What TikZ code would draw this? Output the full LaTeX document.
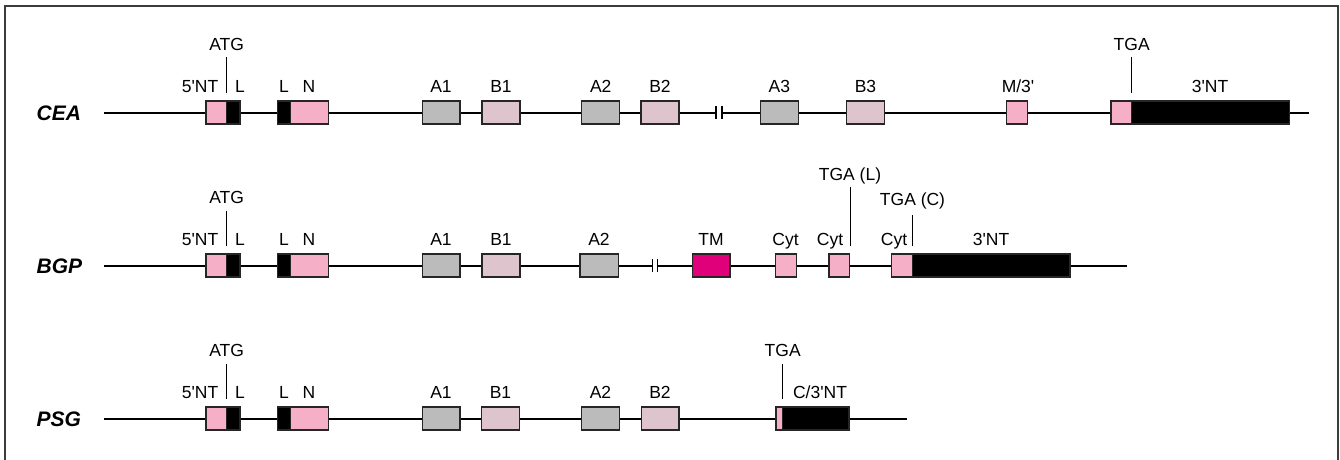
\documentclass[tikz,border=0pt]{standalone}
\usepackage{fontspec}
\setmainfont{Liberation Sans}
\definecolor{pinkx}{RGB}{245,176,200}
\definecolor{mauvex}{RGB}{222,196,204}
\definecolor{grayx}{RGB}{187,187,187}
\definecolor{magx}{RGB}{224,0,122}
\definecolor{framex}{RGB}{60,60,60}
\newcommand{\pr}{\textquotesingle}
\begin{document}
\begin{tikzpicture}[x=1pt,y=-1pt,
  box/.style={draw=black!85, line width=1.4pt, minimum height=23pt, inner sep=0pt, anchor=west, outer sep=0pt},
  pk/.style={box, fill=pinkx},
  bk/.style={box, fill=black},
  gy/.style={box, fill=grayx},
  mv/.style={box, fill=mauvex},
  mg/.style={box, fill=magx},
  gene/.style={line width=2pt},
  tick/.style={line width=0.9pt},
  lab/.style={anchor=base, inner sep=0pt, font=\fontsize{17.5}{20}\selectfont},
  rowname/.style={anchor=base west, inner sep=0pt, font=\fontsize{21}{24}\selectfont\bfseries\itshape},
  brk/.style={line width=1.4pt}
]
\useasboundingbox (0,0) rectangle (1340,460);
\draw[framex, line width=1.4pt] (5,6) rectangle (1338,480);

% ================= CEA =================
\def\ry{112.5}
\node[rowname] (ceaname) at (36.5,\ry+7.5) {CEA};
\coordinate (ceaS) at (104,\ry);
\coordinate (ceaE) at (1309,\ry);
\coordinate (ceaB1) at (716,\ry);
\coordinate (ceaB2) at (722,\ry);
\draw[gene] (ceaS) -- (ceaB1);
\draw[gene] (ceaB2) -- (ceaE);
\draw[brk] (716,\ry-6.5) -- (716,\ry+6.5);
\draw[brk] (722,\ry-6.5) -- (722,\ry+6.5);
\node[pk, minimum width=20.7pt] (ceaP5) at (206,\ry) {};
\node[bk, minimum width=13.3pt] (ceaL1) at (226.7,\ry) {};
\node[bk, minimum width=13.3pt] (ceaL2) at (277.3,\ry) {};
\node[pk, minimum width=37.6pt] (ceaN) at (290.7,\ry) {};
\node[gy, minimum width=37.7pt] (ceaA1) at (422.3,\ry) {};
\node[mv, minimum width=38pt] (ceaBB1) at (482,\ry) {};
\node[gy, minimum width=38pt] (ceaA2) at (581.7,\ry) {};
\node[mv, minimum width=38pt] (ceaBB2) at (641,\ry) {};
\node[gy, minimum width=38pt] (ceaA3) at (760.3,\ry) {};
\node[mv, minimum width=37.6pt] (ceaBB3) at (846.7,\ry) {};
\node[pk, minimum width=21.4pt] (ceaM) at (1006.3,\ry) {};
\node[pk, minimum width=20.7pt] (ceaTP) at (1111,\ry) {};
\node[bk, minimum width=157.6pt] (ceaNT) at (1131.7,\ry) {};
\node[lab] (ceaT1) at (200,\ry-20) {5\pr NT};
\node[lab] (ceaT2) at (240,\ry-20) {L};
\node[lab] (ceaT3) at (284,\ry-20) {L};
\node[lab] (ceaT4) at (309,\ry-20) {N};
\node[lab] (ceaT5) at (441,\ry-20) {A1};
\node[lab] (ceaT6) at (501,\ry-20) {B1};
\node[lab] (ceaT7) at (600.7,\ry-20) {A2};
\node[lab] (ceaT8) at (660,\ry-20) {B2};
\node[lab] (ceaT9) at (779.3,\ry-20) {A3};
\node[lab] (ceaT10) at (865.5,\ry-20) {B3};
\node[lab] (ceaT11) at (1018,\ry-20) {M/3\pr};
\node[lab] (ceaT12) at (1210,\ry-20) {3\pr NT};
\node[lab] (ceaATG) at (226.7,\ry-62) {ATG};
\node[lab] (ceaTGA) at (1131.7,\ry-62) {TGA};
\draw[tick] (226.7,\ry-55) -- (226.7,\ry-19.5);
\draw[tick] (1131.7,\ry-55) -- (1131.7,\ry-19.5);

% ================= BGP =================
\def\ry{265.5}
\node[rowname] (bgpname) at (36.5,\ry+7.5) {BGP};
\coordinate (bgpS) at (104,\ry);
\coordinate (bgpE) at (1127,\ry);
\coordinate (bgpB1) at (652.7,\ry);
\coordinate (bgpB2) at (657.3,\ry);
\draw[gene] (bgpS) -- (bgpB1);
\draw[gene] (bgpB2) -- (bgpE);
\draw[brk] (652.7,\ry-6.5) -- (652.7,\ry+6.5);
\draw[brk] (657.3,\ry-6.5) -- (657.3,\ry+6.5);
\node[pk, minimum width=20.7pt] (bgpP5) at (206,\ry) {};
\node[bk, minimum width=13.3pt] (bgpL1) at (226.7,\ry) {};
\node[bk, minimum width=13.3pt] (bgpL2) at (277.3,\ry) {};
\node[pk, minimum width=37.6pt] (bgpN) at (290.7,\ry) {};
\node[gy, minimum width=37.7pt] (bgpA1) at (422.3,\ry) {};
\node[mv, minimum width=38pt] (bgpBB1) at (482,\ry) {};
\node[gy, minimum width=38.3pt] (bgpA2) at (580,\ry) {};
\node[mg, minimum width=37.7pt] (bgpTM) at (692.3,\ry) {};
\node[pk, minimum width=21pt] (bgpC1) at (775.7,\ry) {};
\node[pk, minimum width=20.3pt] (bgpC2) at (829,\ry) {};
\node[pk, minimum width=20.6pt] (bgpC3) at (891.7,\ry) {};
\node[bk, minimum width=157.7pt] (bgpNT) at (912.3,\ry) {};
\node[lab] (bgpT1) at (200,\ry-20) {5\pr NT};
\node[lab] (bgpT2) at (240,\ry-20) {L};
\node[lab] (bgpT3) at (284,\ry-20) {L};
\node[lab] (bgpT4) at (309,\ry-20) {N};
\node[lab] (bgpT5) at (441,\ry-20) {A1};
\node[lab] (bgpT6) at (501,\ry-20) {B1};
\node[lab] (bgpT7) at (599,\ry-20) {A2};
\node[lab] (bgpT8) at (711,\ry-20) {TM};
\node[lab] (bgpT9) at (785.5,\ry-20) {Cyt};
\node[lab] (bgpT10) at (830,\ry-20) {Cyt};
\node[lab] (bgpT11) at (894,\ry-20) {Cyt};
\node[lab] (bgpT12) at (991,\ry-20) {3\pr NT};
\node[lab] (bgpATG) at (226.7,\ry-62) {ATG};
\node[lab] (bgpTGAL) at (850,\ry-85.5) {TGA (L)};
\node[lab] (bgpTGAC) at (912.5,\ry-60.5) {TGA (C)};
\draw[tick] (226.7,\ry-55) -- (226.7,\ry-19.5);
\draw[tick] (850,\ry-79) -- (850,\ry-19.5);
\draw[tick] (912.3,\ry-50.5) -- (912.3,\ry-19.5);

% ================= PSG =================
\def\ry{418.5}
\node[rowname] (psgname) at (36.5,\ry+7.5) {PSG};
\coordinate (psgS) at (104,\ry);
\coordinate (psgE) at (907,\ry);
\draw[gene] (psgS) -- (psgE);
\node[pk, minimum width=20.7pt] (psgP5) at (206,\ry) {};
\node[bk, minimum width=13.3pt] (psgL1) at (226.7,\ry) {};
\node[bk, minimum width=13.3pt] (psgL2) at (277.3,\ry) {};
\node[pk, minimum width=37.6pt] (psgN) at (290.7,\ry) {};
\node[gy, minimum width=37.7pt] (psgA1) at (422.3,\ry) {};
\node[mv, minimum width=37.6pt] (psgBB1) at (481.7,\ry) {};
\node[gy, minimum width=37.6pt] (psgA2) at (581.7,\ry) {};
\node[mv, minimum width=37.7pt] (psgBB2) at (641.3,\ry) {};
\node[pk, minimum width=6.3pt] (psgTP) at (776,\ry) {};
\node[bk, minimum width=66.7pt] (psgNT) at (782.3,\ry) {};
\node[lab] (psgT1) at (200,\ry-20) {5\pr NT};
\node[lab] (psgT2) at (240,\ry-20) {L};
\node[lab] (psgT3) at (284,\ry-20) {L};
\node[lab] (psgT4) at (309,\ry-20) {N};
\node[lab] (psgT5) at (441,\ry-20) {A1};
\node[lab] (psgT6) at (500.5,\ry-20) {B1};
\node[lab] (psgT7) at (600.5,\ry-20) {A2};
\node[lab] (psgT8) at (660,\ry-20) {B2};
\node[lab] (psgT9) at (820,\ry-20) {C/3\pr NT};
\node[lab] (psgATG) at (226.7,\ry-62) {ATG};
\node[lab] (psgTGA) at (782.7,\ry-62) {TGA};
\draw[tick] (226.7,\ry-55) -- (226.7,\ry-19.5);
\draw[tick] (782.7,\ry-55) -- (782.7,\ry-19.5);
\end{tikzpicture}
\end{document}
